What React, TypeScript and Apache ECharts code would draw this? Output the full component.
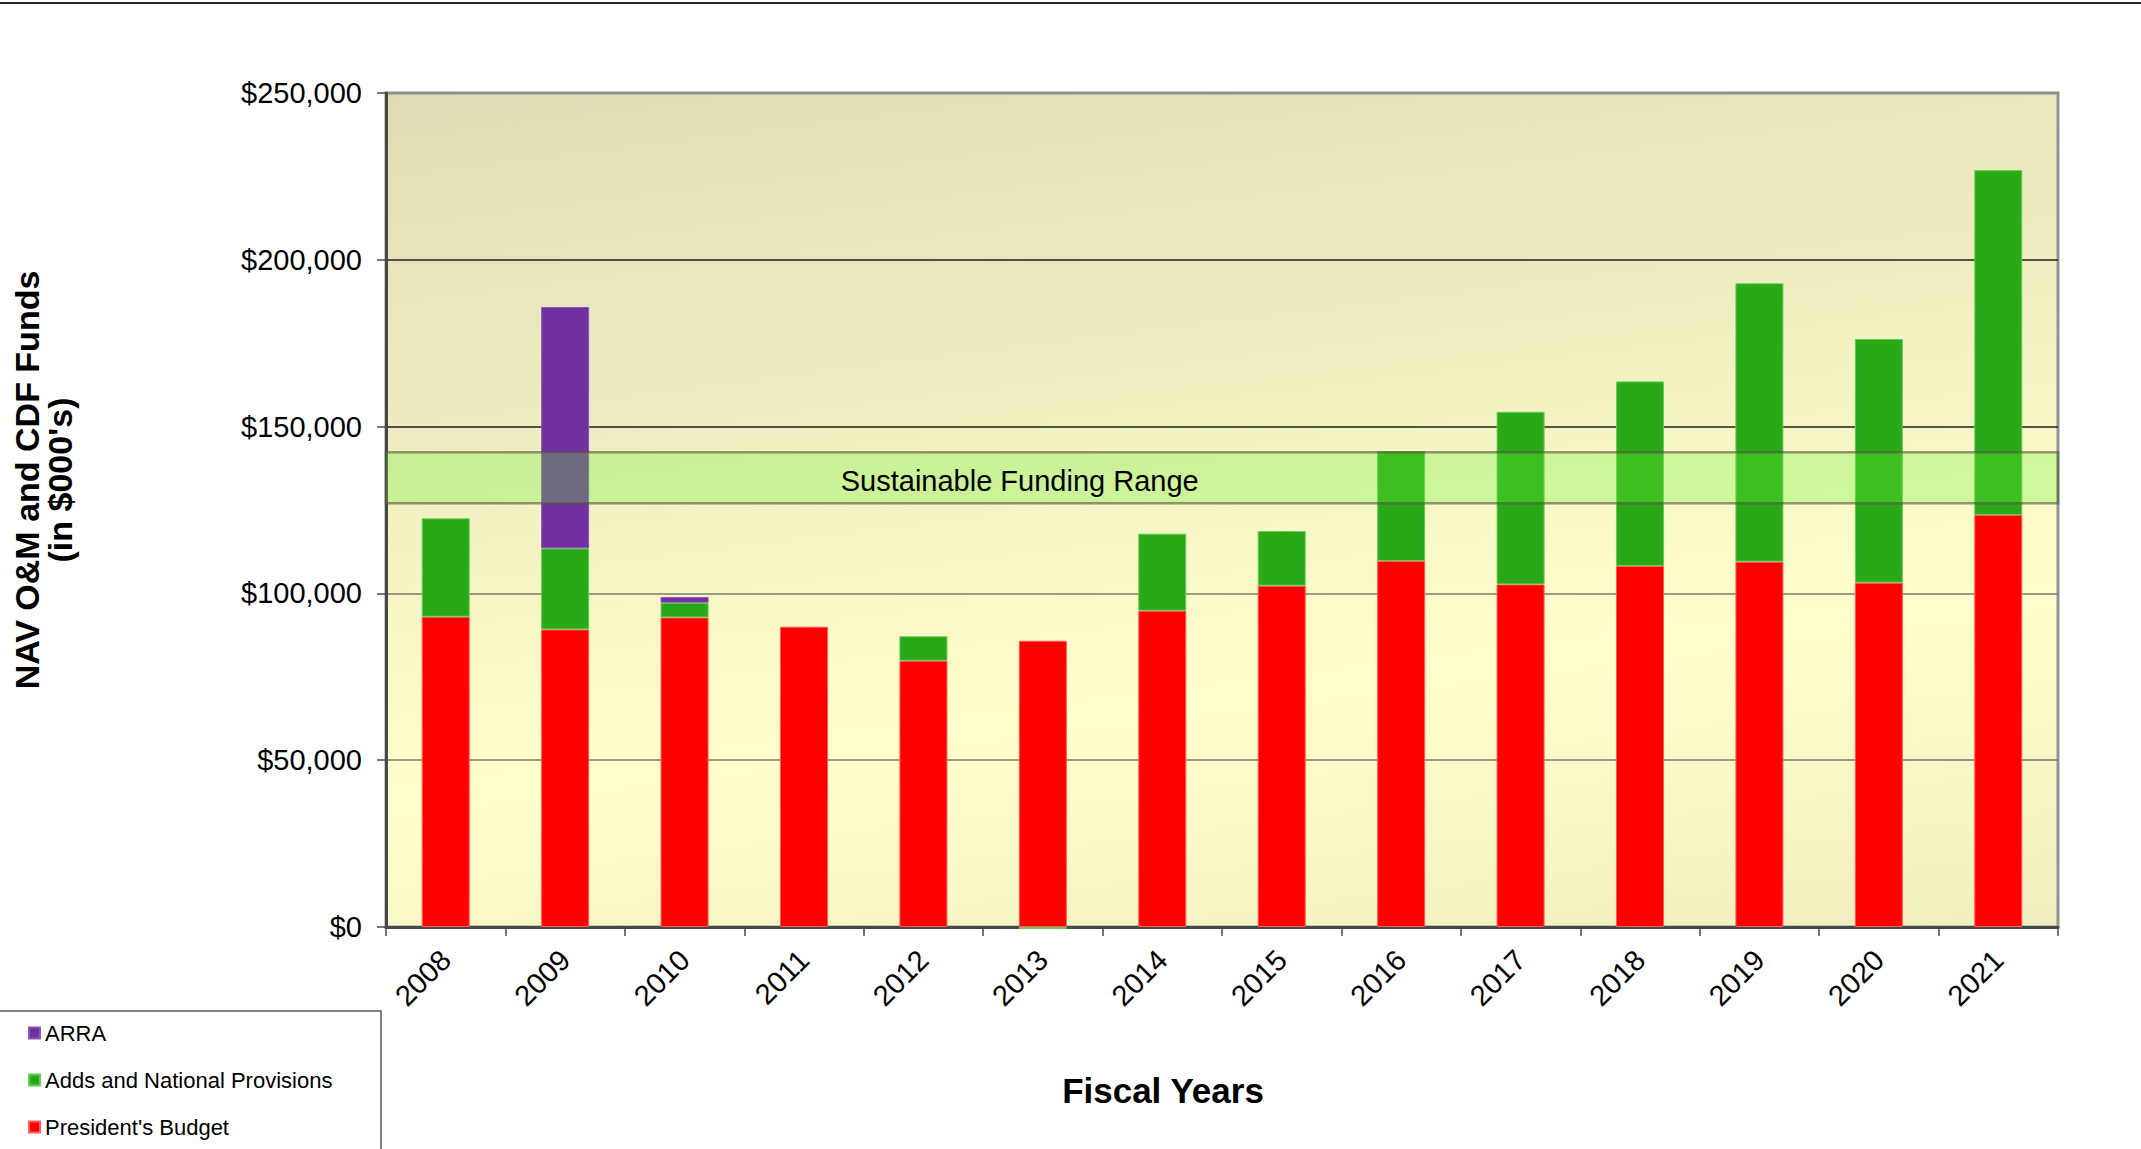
import React, { useEffect, useRef } from "react";
import * as echarts from "echarts";

const years = ["2008", "2009", "2010", "2011", "2012", "2013", "2014", "2015", "2016", "2017", "2018", "2019", "2020", "2021"];
const presidentsBudget = [93000, 89200, 92800, 90000, 79800, 85800, 94800, 102300, 109700, 102700, 108200, 109500, 103200, 123500];
const addsNational = [29500, 24300, 4400, 0, 7350, -600, 23100, 16400, 32950, 51750, 55350, 83450, 73050, 103400];
const arra = [0, 72350, 1700, 0, 0, 0, 0, 0, 0, 0, 0, 0, 0, 0];
const fundingRange = [127000, 142300];
const yMin = 0;
const yMax = 250000;
const yInterval = 50000;
const legendNames = ["ARRA", "Adds and National Provisions", "President's Budget"];

const FONT = '"Liberation Sans", Arial, Helvetica, sans-serif';

// zero-height stacked segments are left out so their borders do not draw a hairline
const nonZero = (arr: number[]) => arr.map((v) => (v === 0 ? null : v));

export default function App() {
  const ref = useRef<HTMLDivElement>(null);

  useEffect(() => {
    if (!ref.current) return;
    const chart = echarts.init(ref.current, null, { renderer: "svg" });
    const option: any = {
      animation: false,
      backgroundColor: "#ffffff",
      textStyle: { fontFamily: FONT },
      grid: {
        left: 386,
        right: 83,
        top: 93,
        bottom: 222,
        containLabel: false,
        outerBoundsMode: "none",
        show: true,
        borderColor: "#929292",
        borderWidth: 3,
        backgroundColor: {
          type: "linear",
          x: 0,
          y: 0,
          x2: 0.4,
          y2: 1.6,
          colorStops: [
            { offset: 0, color: "#dfdcb3" },
            { offset: 0.5, color: "#ffffcc" },
            { offset: 1, color: "#e0ddb4" },
          ],
        },
      },
      legend: {
        orient: "vertical",
        left: 28,
        top: 1022,
        padding: 0,
        itemWidth: 11,
        itemHeight: 11,
        itemGap: 25,
        icon: "rect",
        data: legendNames,
        textStyle: { fontSize: 22, color: "#000", fontFamily: FONT, lineHeight: 22 },
      },
      xAxis: {
        type: "category",
        data: years,
        axisLine: { show: true, lineStyle: { color: "#4a4a4a", width: 3 } },
        axisTick: { show: true, length: 9, lineStyle: { color: "#4a4a4a", width: 1.5 } },
        axisLabel: { rotate: 45, margin: 28, fontSize: 29, color: "#000", fontFamily: FONT },
        splitLine: { show: false },
      },
      yAxis: {
        type: "value",
        min: yMin,
        max: yMax,
        interval: yInterval,
        axisLine: { show: true, lineStyle: { color: "#474747", width: 3 } },
        axisTick: { show: true, length: 9, lineStyle: { color: "#4a4a4a", width: 1.5 } },
        axisLabel: {
          margin: 24,
          fontSize: 29,
          color: "#000",
          fontFamily: FONT,
          formatter: (v: number) => "$" + v.toLocaleString("en-US"),
        },
        splitLine: {
          show: true,
          lineStyle: {
            color: ["#555555", "#7b7b6b", "#7b7b6b", "#1e1e1e", "#1e1e1e", "#8c8c8c"],
            width: 1.5,
          },
        },
      },
      series: [
        {
          name: "President's Budget",
          type: "bar",
          stack: "total",
          barWidth: 48,
          data: nonZero(presidentsBudget),
          itemStyle: { color: "#ff0000", borderColor: "#ff5a5a", borderWidth: 1 },
        },
        {
          name: "Adds and National Provisions",
          type: "bar",
          stack: "total",
          barWidth: 48,
          clip: false,
          data: nonZero(addsNational),
          itemStyle: { color: "#2aa918", borderColor: "#66cc55", borderWidth: 1 },
        },
        {
          name: "ARRA",
          type: "bar",
          stack: "total",
          barWidth: 48,
          data: nonZero(arra),
          itemStyle: { color: "#7030a0", borderColor: "#8a55b8", borderWidth: 1 },
        },
        {
          name: "Sustainable Funding Range",
          type: "custom",
          z: 10,
          silent: true,
          data: [[0, fundingRange[0], fundingRange[1]]],
          encode: { x: 0, y: [1, 2] },
          renderItem: (params: any, api: any) => {
            const cs = params.coordSys;
            const yLo = api.coord([0, api.value(1)])[1];
            const yHi = api.coord([0, api.value(2)])[1];
            return {
              type: "group",
              children: [
                {
                  type: "rect",
                  shape: { x: cs.x, y: yHi, width: cs.width, height: yLo - yHi },
                  style: { fill: "rgba(109,241,53,0.3)", stroke: "rgba(85,85,65,0.6)", lineWidth: 2.5 },
                },
                {
                  type: "text",
                  x: cs.x + cs.width * 0.379,
                  y: (yLo + yHi) / 2 + 3,
                  style: {
                    text: "Sustainable Funding Range",
                    fill: "#000",
                    fontSize: 29,
                    fontFamily: FONT,
                    align: "center",
                    verticalAlign: "middle",
                    textAlign: "center",
                    textVerticalAlign: "middle",
                  },
                },
              ],
            };
          },
        },
      ],
      graphic: [
        {
          type: "line",
          shape: { x1: 0, y1: 3, x2: 2141, y2: 3 },
          style: { stroke: "#262626", lineWidth: 2 },
        },
        {
          type: "rect",
          shape: { x: -2, y: 1011, width: 383, height: 200 },
          style: { fill: "transparent", stroke: "#5a5a5a", lineWidth: 1.5 },
          z: 0,
        },
        {
          type: "text",
          x: 43,
          y: 480,
          rotation: Math.PI / 2,
          style: {
            text: "NAV O&M and CDF Funds\n(in $000's)",
            fill: "#000",
            fontSize: 34,
            fontWeight: "bold",
            fontFamily: FONT,
            lineHeight: 33,
            align: "center",
            verticalAlign: "middle",
          },
        },
        {
          type: "text",
          x: 1163,
          y: 1090,
          style: {
            text: "Fiscal Years",
            fill: "#000",
            fontSize: 35,
            fontWeight: "bold",
            fontFamily: FONT,
            align: "center",
            verticalAlign: "middle",
          },
        },
      ],
    };
    chart.setOption(option);
    return () => chart.dispose();
  }, []);

  return (
    <div
      ref={ref}
      style={{ position: "fixed", left: 0, top: 0, width: 2141, height: 1149 }}
    />
  );
}
